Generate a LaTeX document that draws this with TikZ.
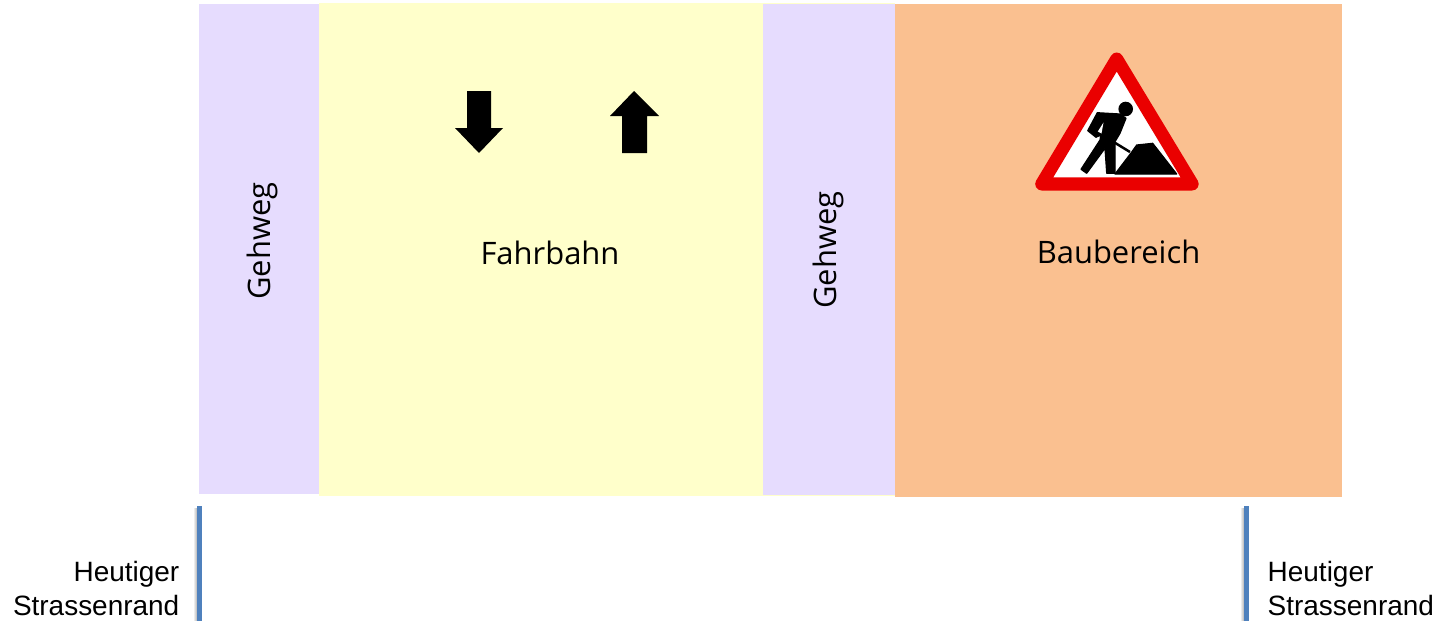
\documentclass[tikz,border=0pt]{standalone}
\usepackage{fontspec}
\setmainfont{Open Sans}
\newfontfamily\randfont{Liberation Sans}
\usepackage{tikz}
\definecolor{gehwegcol}{HTML}{E6DCFE}
\definecolor{fahrbahncol}{HTML}{FFFFCB}
\definecolor{baucol}{HTML}{FAC090}
\definecolor{randcol}{HTML}{4F81BD}
\definecolor{signcol}{HTML}{EA0000}
\tikzstyle{zonetext} = [font=\fontsize{8.8}{11}\selectfont, inner sep=0pt]
\tikzstyle{randtext} = [font=\randfont\fontsize{7.95}{9.67}\selectfont, inner sep=0pt]
\tikzstyle{rand} = [randcol, line width=0.053cm]
\tikzstyle{randshadow} = [left color=white, right color=black!30]
\tikzstyle{figure} = [fill=black, draw=black, line width=0.012cm, line join=round]

\begin{document}
\begin{tikzpicture}[x=0.01cm, y=-0.01cm]
  \useasboundingbox (0,0) rectangle (1451,621);

  % Flaechen
  \fill[gehwegcol] (199,4) rectangle (319,494);
  \fill[fahrbahncol] (319,3) rectangle (895,495.6);
  \fill[gehwegcol] (763,4) rectangle (895,495);
  \fill[baucol] (895,4) rectangle (1342,497);

  % Beschriftung
  \node[zonetext, rotate=90] (gehwegA) at (262.5,241) {Gehweg};
  \node[zonetext] (fahrbahn) at (550,253) {Fahrbahn};
  \node[zonetext, rotate=90] (gehwegB) at (828.5,250) {Gehweg};
  \node[zonetext] (baubereich) at (1118.5,252) {Baubereich};

  % Fahrtrichtung
  \fill (467,91) -- (491,91) -- (491,128) -- (503,128) -- (479,153) -- (455,128) -- (467,128) -- cycle;
  \fill (622,153) -- (647,153) -- (647,116) -- (659,116) -- (634,91) -- (610,116) -- (622,116) -- cycle;

  % Warnschild
  \filldraw[fill=white, draw=signcol, line width=0.13cm, line join=round]
    (1116.7,59) -- (1192.2,184) -- (1041.7,184) -- cycle;
  \fill (1125.7,109) circle (7.3);
  \filldraw[figure] (1097.3,112.7) -- (1120,114) -- (1126,118.3) -- (1120,133.3) -- (1115,141.7)
    -- (1115,173.3) -- (1106.7,173.3) -- (1105,148.3) -- (1086.7,173.3) -- (1081,169.3) -- (1100,140)
    -- (1100.7,135) -- (1096,137.3) -- (1087.7,130.7) -- cycle;
  \fill[white] (1103.5,122.5) -- (1097.8,131.5) -- (1101.5,133.5) -- cycle;
  \draw[line width=0.025cm] (1112,141) -- (1130,152);
  \filldraw[figure] (1115,174) -- (1131,153) -- (1136.7,145) -- (1152.7,143.3) -- (1176.7,174) -- cycle;

  % Strassenrand
  \coordinate (randAtop) at (199.3,506);
  \coordinate (randAend) at (199.3,621);
  \coordinate (randBtop) at (1246.6,506);
  \coordinate (randBend) at (1246.6,621);
  \shade[randshadow] (193,508) rectangle (197,621);
  \shade[randshadow] (1240,508) rectangle (1244,621);
  \draw[rand] (randAtop) -- (randAend);
  \draw[rand] (randBtop) -- (randBend);
  \node[randtext, align=right, anchor=base east] (randAtext) at (180,615) {Heutiger\\Strassenrand};
  \node[randtext, align=left, anchor=base west] (randBtext) at (1267,615) {Heutiger\\Strassenrand};
\end{tikzpicture}
\end{document}
